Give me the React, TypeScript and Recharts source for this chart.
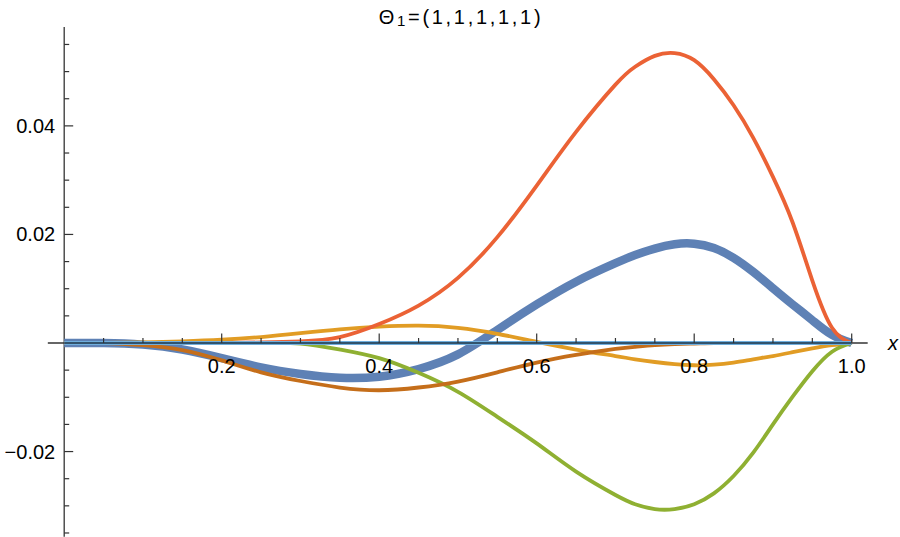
import { LineChart, Line, XAxis, YAxis, ReferenceLine, ReferenceDot } from "recharts";

const xValues = [0, 0.05, 0.1, 0.15, 0.2, 0.25, 0.3, 0.35, 0.4, 0.45, 0.5, 0.55, 0.6, 0.65, 0.7, 0.725, 0.75, 0.775, 0.8, 0.825, 0.85, 0.875, 0.9, 0.925, 0.95, 0.975, 1];

const blueValues = [0, 0, -0.0003, -0.0012, -0.0028, -0.0045, -0.0057, -0.0064, -0.0062, -0.0048, -0.0021, 0.0024, 0.0071, 0.0113, 0.0147, 0.0162, 0.0174, 0.0182, 0.0183, 0.0175, 0.0157, 0.0131, 0.0101, 0.0071, 0.0042, 0.0015, 0];
const orangeValues = [0, 0, 0.0001, 0.0003, 0.0006, 0.0011, 0.0018, 0.0025, 0.003, 0.0032, 0.0028, 0.0017, 0.0002, -0.0012, -0.0024, -0.003, -0.0035, -0.0039, -0.0041, -0.004, -0.0036, -0.003, -0.0024, -0.0017, -0.001, -0.0004, 0];
const greenValues = [0, 0, 0, 0, 0, 0, -0.0001, -0.0012, -0.0028, -0.0055, -0.009, -0.0136, -0.0185, -0.0237, -0.028, -0.0297, -0.0306, -0.0306, -0.0297, -0.0277, -0.0245, -0.0202, -0.015, -0.0099, -0.0052, -0.0016, 0];
const redValues = [0, 0, 0, 0, 0.00002, 0.0001, 0.0003, 0.0011, 0.0035, 0.0069, 0.012, 0.0195, 0.029, 0.0389, 0.0476, 0.0509, 0.0529, 0.0534, 0.0521, 0.0486, 0.0438, 0.0378, 0.0306, 0.0222, 0.0115, 0.0028, 0];
const brownValues = [0, 0, -0.0004, -0.0013, -0.0032, -0.0054, -0.007, -0.0082, -0.0087, -0.0082, -0.0071, -0.0054, -0.0036, -0.0022, -0.0011, -0.0007, -0.0004, -0.0002, -0.0001, 0, 0, 0, 0, 0, 0, 0, 0];

const xMajorTicks = [0.2, 0.4, 0.6, 0.8, 1.0];
const xMajorLabels = ["0.2", "0.4", "0.6", "0.8", "1.0"];
const xMinorTicks = [0.05, 0.1, 0.15, 0.25, 0.3, 0.35, 0.45, 0.5, 0.55, 0.65, 0.7, 0.75, 0.85, 0.9, 0.95];
const yMajorTicks = [-0.02, 0.02, 0.04];
const yMajorLabels = ["\u22120.02", "0.02", "0.04"];
const yMinorTicks = [-0.035, -0.03, -0.025, -0.015, -0.01, -0.005, 0.005, 0.01, 0.015, 0.025, 0.03, 0.035, 0.045, 0.05, 0.055];

const data = xValues.map((x, i) => ({
  x,
  blue: blueValues[i],
  orange: orangeValues[i],
  green: greenValues[i],
  red: redValues[i],
  brown: brownValues[i],
}));

const FONT = "'Liberation Sans', Arial, sans-serif";
const AXIS = "#333333";

const xTickShape = (len: number, label?: string) => (p: any) => (
  <g>
    <line x1={p.cx} y1={p.cy} x2={p.cx} y2={p.cy - len} stroke={AXIS} strokeWidth={1.2} />
    {label && (
      <text x={p.cx} y={p.cy + 30} textAnchor="middle" fontSize={20} fontFamily={FONT} fill="#000">{label}</text>
    )}
  </g>
);

const yTickShape = (len: number, label?: string) => (p: any) => (
  <g>
    <line x1={p.cx} y1={p.cy} x2={p.cx + len} y2={p.cy} stroke={AXIS} strokeWidth={1.2} />
    {label && (
      <text x={p.cx - 9} y={p.cy + 7} textAnchor="end" fontSize={20} fontFamily={FONT} fill="#000">{label}</text>
    )}
  </g>
);

export default function App() {
  return (
    <div style={{ position: "absolute", left: 0, top: 0, width: 900, height: 537, background: "#fff" }}>
      <LineChart width={900} height={537} data={data} margin={{ top: 0, right: 0, bottom: 0, left: 0 }}>
        <XAxis dataKey="x" type="number" domain={[-0.08152, 1.06133]} hide allowDataOverflow />
        <YAxis type="number" domain={[-0.03574, 0.06319]} hide allowDataOverflow />

        <ReferenceLine segment={[{ x: -0.0208, y: 0 }, { x: 1.0203, y: 0 }]} stroke={AXIS} strokeWidth={1.3} />
        <ReferenceLine segment={[{ x: 0, y: -0.0357 }, { x: 0, y: 0.0582 }]} stroke={AXIS} strokeWidth={1.3} />

        <Line dataKey="blue" type="natural" stroke="#5E81B5" strokeWidth={8.5} dot={false} activeDot={false} isAnimationActive={false} />
        <Line dataKey="orange" type="natural" stroke="#E19C24" strokeWidth={3.8} dot={false} activeDot={false} isAnimationActive={false} />
        <Line dataKey="green" type="natural" stroke="#8FB032" strokeWidth={3.8} dot={false} activeDot={false} isAnimationActive={false} />
        <Line dataKey="red" type="natural" stroke="#EB6235" strokeWidth={3.8} dot={false} activeDot={false} isAnimationActive={false} />
        <Line dataKey="brown" type="natural" stroke="#C56E1A" strokeWidth={3.8} dot={false} activeDot={false} isAnimationActive={false} />

        <ReferenceLine segment={[{ x: 0, y: 0 }, { x: 1, y: 0 }]} stroke="#6FAEDD" strokeWidth={4} />
        <ReferenceLine segment={[{ x: 0, y: 0 }, { x: 1, y: 0 }]} stroke="#1E3446" strokeWidth={1.4} />

        {xMinorTicks.map((t) => (
          <ReferenceDot key={"xm" + t} x={t} y={0} r={0} shape={xTickShape(5)} />
        ))}
        {xMajorTicks.map((t, i) => (
          <ReferenceDot key={"xM" + t} x={t} y={0} r={0} shape={xTickShape(9.5, xMajorLabels[i])} />
        ))}
        {yMinorTicks.map((t) => (
          <ReferenceDot key={"ym" + t} x={0} y={t} r={0} shape={yTickShape(5)} />
        ))}
        {yMajorTicks.map((t, i) => (
          <ReferenceDot key={"yM" + t} x={0} y={t} r={0} shape={yTickShape(9, yMajorLabels[i])} />
        ))}
      </LineChart>
      <svg width={900} height={537} style={{ position: "absolute", left: 0, top: 0, pointerEvents: "none" }}>
        <text x={461} y={24} textAnchor="middle" fontSize={20} letterSpacing={2.7} fontFamily={FONT} fill="#000">
          {"\u0398"}
          <tspan fontSize={15} dy={2}>1</tspan>
          <tspan dy={-2}>{"=(1,1,1,1,1)"}</tspan>
        </text>
        <text x={893} y={350} textAnchor="middle" fontSize={20} fontStyle="italic" fontFamily={FONT} fill="#000">x</text>
      </svg>
    </div>
  );
}
